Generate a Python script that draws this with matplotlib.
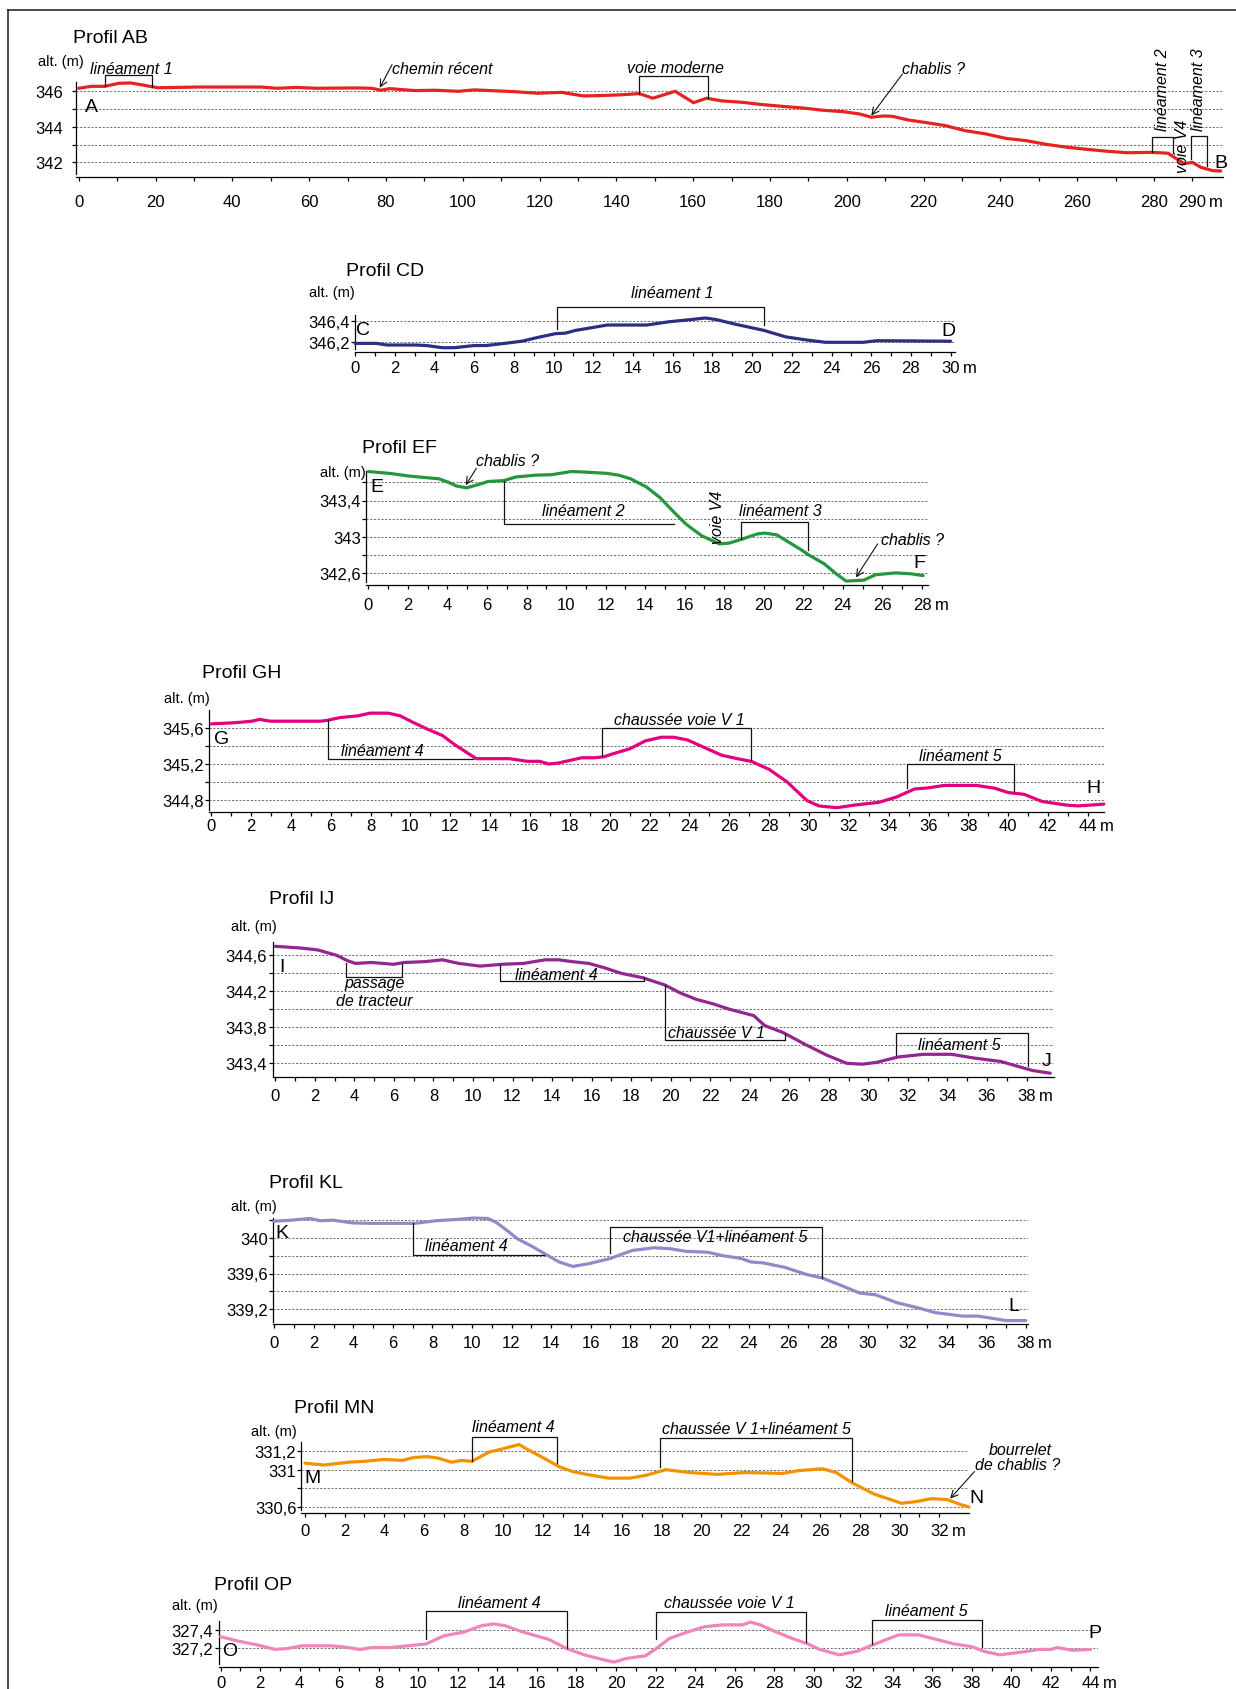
import matplotlib
matplotlib.use('Agg')
import matplotlib.pyplot as plt
from matplotlib.lines import Line2D

plt.rcParams['font.family'] = ['Liberation Sans', 'DejaVu Sans']
NARROW = ['Liberation Sans Narrow', 'Liberation Sans', 'DejaVu Sans']

# --- profils topographiques : distance (m) / altitude (m) ---
ab_dist = [0, 3.2, 6.8, 10.4, 13.5, 16.6, 19, 20.7, 25.8, 31, 41.3, 47.5, 51.6, 56.7, 61.9, 72.2,
           76.3, 78.7, 81, 87.6, 92.8, 98.9, 103, 113.4, 119.6, 125.7, 131.4, 136, 141, 146, 149.5,
           155.3, 156.9, 160.1, 163.5, 167.5, 172.8, 178.1, 183.3, 188.6, 193.9, 199.2, 203.4, 206.4,
           209.7, 211.9, 216.1, 220.3, 225.6, 230.9, 236.2, 241.4, 246.7, 252, 257.3, 262.6, 267.9,
           273.1, 279.5, 283.7, 285.3, 287.9, 290, 292.2, 295.3, 297.4]
ab_alt = [346.17, 346.28, 346.28, 346.45, 346.47, 346.36, 346.26, 346.2, 346.22, 346.24, 346.24,
          346.24, 346.17, 346.22, 346.17, 346.19, 346.17, 346.06, 346.15, 346.04, 346.06, 346.0,
          346.08, 345.98, 345.89, 345.94, 345.74, 345.76, 345.8, 345.87, 345.61, 346.0, 345.79,
          345.36, 345.61, 345.46, 345.38, 345.25, 345.15, 345.06, 344.93, 344.85, 344.72, 344.54,
          344.61, 344.59, 344.38, 344.25, 344.07, 343.78, 343.6, 343.35, 343.22, 343.01, 342.85,
          342.73, 342.62, 342.54, 342.56, 342.51, 342.28, 341.92, 342.0, 341.72, 341.53, 341.51]

cd_dist = [0, 1.05, 1.6, 3.0, 3.6, 4.4, 5.0, 6.0, 6.6, 7.3, 8.4, 9.2, 10.1, 10.6, 11.1, 11.75, 12.7,
           14.7, 15.8, 16.9, 17.65, 18.2, 19.1, 20.6, 21.7, 22.8, 23.7, 25.6, 26.3, 30]
cd_alt = [346.19, 346.19, 346.175, 346.175, 346.17, 346.15, 346.15, 346.17, 346.17, 346.185,
          346.21, 346.245, 346.28, 346.285, 346.31, 346.33, 346.36, 346.36, 346.39, 346.41, 346.425,
          346.41, 346.37, 346.31, 346.25, 346.22, 346.2, 346.2, 346.215, 346.21]

ef_dist = [0, 1.06, 2.06, 3.06, 3.56, 4.06, 4.46, 4.96, 5.46, 6.06, 6.86, 7.46, 8.46, 9.26, 10.26,
           10.86, 12.06, 12.66, 13.26, 14.06, 14.76, 15.46, 16.06, 16.86, 17.76, 18.26, 18.86, 19.66,
           20.06, 20.66, 21.26, 21.86, 22.26, 23.06, 23.66, 24.16, 25.06, 25.66, 26.66, 27.46, 28.06]
ef_alt = [343.72, 343.70, 343.67, 343.65, 343.64, 343.60, 343.56, 343.54, 343.57, 343.61, 343.62,
          343.66, 343.68, 343.685, 343.72, 343.715, 343.70, 343.68, 343.64, 343.55, 343.43, 343.27,
          343.14, 343.01, 342.92, 342.93, 342.97, 343.03, 343.04, 343.02, 342.94, 342.86, 342.80,
          342.70, 342.59, 342.51, 342.52, 342.58, 342.60, 342.59, 342.57]

gh_dist = [0, 0.97, 1.58, 2.04, 2.43, 2.95, 4.0, 5.5, 5.84, 6.45, 7.36, 7.97, 8.88, 9.49, 10.1, 10.86,
           11.6, 12.2, 13.3, 14.96, 15.87, 16.48, 16.94, 17.4, 18.0, 18.6, 19.2, 19.7, 20.1, 21.0,
           21.8, 22.6, 23.2, 23.9, 24.7, 25.6, 26.4, 27.1, 28.0, 28.9, 29.9, 30.5, 31.4, 32.3, 33.5,
           34.4, 35.3, 35.9, 36.8, 38.4, 39.3, 40.0, 40.8, 41.7, 42.9, 43.5, 44.8]
gh_alt = [345.65, 345.66, 345.67, 345.68, 345.70, 345.68, 345.68, 345.68, 345.69, 345.72, 345.74,
          345.77, 345.77, 345.74, 345.67, 345.59, 345.52, 345.42, 345.26, 345.26, 345.23, 345.23,
          345.2, 345.21, 345.24, 345.27, 345.27, 345.28, 345.31, 345.37, 345.46, 345.5, 345.5,
          345.47, 345.39, 345.30, 345.26, 345.23, 345.14, 345.0, 344.79, 344.73, 344.71, 344.74,
          344.77, 344.83, 344.92, 344.93, 344.96, 344.96, 344.93, 344.88, 344.86, 344.78, 344.74,
          344.73, 344.75]

ij_dist = [0, 1.32, 2.14, 3.1, 3.65, 4.06, 4.88, 5.98, 6.52, 7.6, 8.45, 9.27, 10.36, 11.46, 12.56,
           13.65, 14.34, 15.0, 15.85, 16.67, 17.49, 18.6, 19.7, 20.5, 21.3, 22.15, 22.98, 24.2,
           24.75, 25.7, 26.8, 27.9, 28.9, 29.7, 30.4, 31.5, 32.8, 34.2, 35.3, 36.7, 37.5, 38.3, 39.2]
ij_alt = [344.70, 344.68, 344.66, 344.60, 344.54, 344.51, 344.52, 344.50, 344.52, 344.53, 344.55,
          344.51, 344.48, 344.50, 344.51, 344.55, 344.55, 344.53, 344.51, 344.46, 344.40, 344.35,
          344.27, 344.18, 344.11, 344.06, 344.0, 343.93, 343.82, 343.74, 343.61, 343.49, 343.40,
          343.39, 343.41, 343.47, 343.50, 343.50, 343.46, 343.42, 343.37, 343.32, 343.29]

kl_dist = [0, 0.82, 1.78, 2.33, 3.0, 3.97, 4.93, 7.1, 8.2, 9.3, 10.1, 10.8, 11.2, 11.8, 12.3, 13.0,
           13.7, 14.4, 15.1, 15.9, 17.0, 18.1, 19.2, 20.0, 20.8, 21.9, 22.7, 23.6, 24.1, 24.7, 25.8,
           26.9, 27.7, 28.5, 29.6, 30.4, 31.5, 32.6, 33.4, 34.8, 35.6, 37.0, 38.0]
kl_alt = [340.19, 340.20, 340.22, 340.195, 340.2, 340.17, 340.165, 340.165, 340.195, 340.21,
          340.225, 340.22, 340.18, 340.08, 339.99, 339.91, 339.82, 339.73, 339.68, 339.71, 339.77,
          339.86, 339.89, 339.88, 339.85, 339.84, 339.80, 339.77, 339.73, 339.72, 339.67, 339.59,
          339.55, 339.48, 339.38, 339.36, 339.27, 339.21, 339.16, 339.12, 339.12, 339.07, 339.07]

mn_dist = [0, 0.96, 2.19, 3.0, 3.97, 4.92, 5.47, 6.15, 6.7, 7.4, 7.88, 8.42, 9.3, 10.1, 10.8, 11.2,
           12.0, 12.85, 13.5, 14.2, 15.3, 16.4, 17.2, 18.2, 19.4, 20.8, 22.2, 24.1, 24.9, 26.1, 26.8,
           27.6, 28.7, 30.1, 30.9, 31.6, 32.4, 33.1, 33.5]
mn_alt = [331.07, 331.05, 331.08, 331.09, 331.11, 331.10, 331.13, 331.14, 331.125, 331.08, 331.10,
          331.09, 331.19, 331.23, 331.27, 331.22, 331.13, 331.03, 330.98, 330.95, 330.91, 330.91,
          330.94, 331.0, 330.97, 330.95, 330.97, 330.96, 330.99, 331.01, 330.97, 330.86, 330.74,
          330.64, 330.66, 330.69, 330.68, 330.625, 330.60]

op_dist = [0, 0.92, 1.84, 2.76, 3.37, 4.14, 5.52, 6.13, 7.05, 7.66, 8.58, 9.5, 10.4, 11.3, 12.3,
           13.2, 13.8, 14.4, 15.3, 16.6, 17.5, 18.4, 19.3, 19.9, 20.5, 21.5, 22.1, 22.7, 23.6, 24.5,
           25.4, 26.4, 26.8, 27.3, 27.9, 28.8, 29.7, 30.3, 31.3, 32.2, 33.0, 33.7, 34.3, 35.3, 36.2,
           37.1, 38.0, 38.6, 39.4, 40.5, 41.4, 42.0, 42.3, 43.1, 44.0]
op_alt = [327.33, 327.28, 327.24, 327.19, 327.2, 327.23, 327.23, 327.22, 327.19, 327.21, 327.21,
          327.23, 327.25, 327.34, 327.38, 327.45, 327.47, 327.45, 327.38, 327.30, 327.20, 327.13,
          327.08, 327.05, 327.09, 327.12, 327.21, 327.31, 327.38, 327.44, 327.46, 327.46, 327.49,
          327.46, 327.40, 327.32, 327.25, 327.19, 327.13, 327.17, 327.24, 327.30, 327.35, 327.35,
          327.30, 327.25, 327.22, 327.17, 327.13, 327.16, 327.19, 327.19, 327.21, 327.18, 327.19]

# --- mise en page de chaque profil (pixels de la figure) ---
panels = [
    dict(name='AB', dist=ab_dist, alt=ab_alt, color='#e52421',
         x0=78.7, sx=3.84, yax=76.3, xend=298, yref=(346, 92.3), sy=17.75,
         ytop=82.7, ybot=175, xax=177.7, xstep=10, xlabstep=20, xlast=290,
         grid=[342, 343, 344, 345, 346], ylab=[342, 344, 346],
         xpad=9.4, ypad=6.5, title=(73, 38.3), altpos=(37.6, 61.7)),
    dict(name='CD', dist=cd_dist, alt=cd_alt, color='#2d2e83',
         x0=355.1, sx=19.85, yax=355.1, xend=30.2, yref=(346.2, 343.3), sy=108,
         ytop=316, ybot=350, xax=353.3, xstep=1, xlabstep=2, xlast=30,
         grid=[346.2, 346.4], ylab=[346.2, 346.4],
         xpad=2.2, ypad=0.5, title=(345.5, 271.7), altpos=(308.7, 293.3)),
    dict(name='EF', dist=ef_dist, alt=ef_alt, color='#23973b',
         x0=368.4, sx=19.77, yax=366.4, xend=28.3, yref=(343.0, 537.7), sy=90.5,
         ytop=471.7, ybot=583, xax=586, xstep=1, xlabstep=2, xlast=28,
         grid=[342.6, 342.8, 343.0, 343.2, 343.4, 343.6], ylab=[342.6, 343.0, 343.4],
         xpad=5.8, ypad=0.5, title=(361.6, 448.3), altpos=(320, 473.3)),
    dict(name='GH', dist=gh_dist, alt=gh_alt, color='#e5007d',
         x0=211.2, sx=19.925, yax=209.4, xend=44.8, yref=(345.2, 765), sy=89.2,
         ytop=711, ybot=811, xax=813.3, xstep=1, xlabstep=2, xlast=44,
         grid=[344.8, 345.0, 345.2, 345.4, 345.6], ylab=[344.8, 345.2, 345.6],
         xpad=1.0, ypad=1.0, title=(201.5, 673.3), altpos=(164, 699.3)),
    dict(name='IJ', dist=ij_dist, alt=ij_alt, color='#93278f',
         x0=275.3, sx=19.77, yax=272.6, xend=39.4, yref=(344.2, 992.3), sy=90,
         ytop=943.3, ybot=1076.7, xax=1078.3, xstep=1, xlabstep=2, xlast=38,
         grid=[343.4, 343.6, 343.8, 344.0, 344.2, 344.4, 344.6],
         ylab=[343.4, 343.8, 344.2, 344.6],
         xpad=4.3, ypad=1.0, title=(268.8, 899.3), altpos=(230.8, 926.7)),
    dict(name='KL', dist=kl_dist, alt=kl_alt, color='#8e8cc8',
         x0=274.2, sx=19.78, yax=272.6, xend=38.1, yref=(340.0, 1239), sy=88.75,
         ytop=1219.3, ybot=1323.3, xax=1325, xstep=1, xlabstep=2, xlast=38,
         grid=[339.2, 339.4, 339.6, 339.8, 340.0, 340.2], ylab=[339.2, 339.6, 340.0],
         xpad=4.8, ypad=0.3, title=(268.8, 1183.3), altpos=(230.8, 1207.3)),
    dict(name='MN', dist=mn_dist, alt=mn_alt, color='#f39200',
         x0=305, sx=19.82, yax=301.2, xend=33.5, yref=(331.0, 1470.7), sy=93.3,
         ytop=1443.3, ybot=1511, xax=1514.3, xstep=1, xlabstep=2, xlast=32,
         grid=[330.6, 330.8, 331.0, 331.2], ylab=[330.6, 331.0, 331.2],
         xpad=3.6, ypad=0.3, title=(294.2, 1409), altpos=(250.8, 1431.7)),
    dict(name='OP', dist=op_dist, alt=op_alt, color='#ee86b8',
         x0=220.6, sx=19.77, yax=218.5, xend=44.4, yref=(327.2, 1649.5), sy=91,
         ytop=1622, ybot=1665, xax=1667.5, xstep=1, xlabstep=2, xlast=44,
         grid=[327.2, 327.4], ylab=[327.2, 327.4],
         xpad=2.9, ypad=1.0, title=(214.5, 1586), altpos=(172, 1606)),
]

# --- annotations (coordonnées des profils) ---
notes = {
    'AB': dict(
        brackets=[[(6.8, 346.28), (6.8, 346.92), (19.0, 346.92), (19.0, 346.26)],
                  [(146.0, 345.87), (146.0, 346.88), (163.8, 346.88), (163.8, 345.62)],
                  [(279.5, 342.56), (279.5, 343.41), (285.0, 343.41), (285.0, 342.5)],
                  [(289.6, 342.19), (289.6, 343.46), (293.9, 343.46), (293.9, 341.8)]],
        labels=[(13.75, 347.3, 'linéament 1', 0, 'center'),
                (81.5, 347.3, 'chemin récent', 0, 'left'),
                (155.5, 347.35, 'voie moderne', 0, 'center'),
                (214.5, 347.26, 'chablis ?', 0, 'left'),
                (282.3, 346.12, 'linéament 2', 90, 'center'),
                (287.4, 342.94, 'voie V4', 90, 'center'),
                (291.6, 346.13, 'linéament 3', 90, 'center')],
        arrows=[((81.6, 347.5), (78.4, 346.2)), ((214.5, 346.97), (206.4, 344.63))],
        ends=[(3.2, 345.13, 'A'), (297.4, 342.0, 'B')]),
    'CD': dict(
        brackets=[[(10.16, 346.32), (10.16, 346.53), (20.6, 346.53), (20.6, 346.36)]],
        labels=[(16, 346.66, 'linéament 1', 0, 'center')],
        arrows=[],
        ends=[(0.39, 346.32, 'C'), (29.87, 346.31, 'D')]),
    'EF': dict(
        brackets=[[(6.86, 343.62), (6.86, 343.14), (15.46, 343.14)],
                  [(18.86, 342.97), (18.86, 343.16), (22.26, 343.16), (22.26, 342.85)]],
        labels=[(7.06, 343.84, 'chablis ?', 0, 'center'),
                (10.86, 343.29, 'linéament 2', 0, 'center'),
                (17.66, 343.23, 'voie V4', 90, 'center'),
                (20.86, 343.29, 'linéament 3', 0, 'center'),
                (27.5, 342.97, 'chablis ?', 0, 'center')],
        arrows=[((5.46, 343.755), (4.92, 343.57)), ((25.76, 342.92), (24.66, 342.55))],
        ends=[(0.42, 343.56, 'E'), (27.86, 342.71, 'F')]),
    'GH': dict(
        brackets=[[(5.84, 345.69), (5.84, 345.26), (13.14, 345.26)],
                  [(19.6, 345.29), (19.6, 345.6), (27.1, 345.6), (27.1, 345.24)],
                  [(34.9, 344.93), (34.9, 345.2), (40.3, 345.2), (40.3, 344.9)]],
        labels=[(8.57, 345.35, 'linéament 4', 0, 'center'),
                (23.5, 345.70, 'chaussée voie V 1', 0, 'center'),
                (37.6, 345.29, 'linéament 5', 0, 'center')],
        arrows=[],
        ends=[(0.5, 345.49, 'G'), (44.3, 344.94, 'H')]),
    'IJ': dict(
        brackets=[[(3.56, 344.51), (3.56, 344.36), (6.4, 344.36), (6.4, 344.5)],
                  [(11.35, 344.49), (11.35, 344.32), (18.67, 344.32), (18.67, 344.36)],
                  [(19.7, 344.27), (19.7, 343.66), (25.8, 343.66), (25.8, 343.72)],
                  [(31.4, 343.49), (31.4, 343.74), (38.05, 343.74), (38.05, 343.37)]],
        labels=[(5.0, 344.3, 'passage', 0, 'center'),
                (5.0, 344.1, 'de tracteur', 0, 'center'),
                (14.2, 344.385, 'linéament 4', 0, 'center'),
                (22.3, 343.74, 'chaussée V 1', 0, 'center'),
                (34.6, 343.61, 'linéament 5', 0, 'center')],
        arrows=[],
        ends=[(0.36, 344.48, 'I'), (39.0, 343.43, 'J')]),
    'KL': dict(
        brackets=[[(7.0, 340.165), (7.0, 339.81), (13.65, 339.81)],
                  [(17.0, 339.83), (17.0, 340.12), (27.7, 340.12), (27.7, 339.55)]],
        labels=[(9.7, 339.91, 'linéament 4', 0, 'center'),
                (22.3, 340.02, 'chaussée V1+linéament 5', 0, 'center')],
        arrows=[],
        ends=[(0.4, 340.06, 'K'), (37.4, 339.24, 'L')]),
    'MN': dict(
        brackets=[[(8.42, 331.09), (8.42, 331.35), (12.7, 331.35), (12.7, 331.07)],
                  [(17.9, 331.03), (17.9, 331.34), (27.6, 331.34), (27.6, 330.88)]],
        labels=[(10.5, 331.46, 'linéament 4', 0, 'center'),
                (22.8, 331.44, 'chaussée V 1+linéament 5', 0, 'center'),
                (36.1, 331.22, 'bourrelet', 0, 'center'),
                (35.97, 331.06, 'de chablis ?', 0, 'center')],
        arrows=[((33.78, 330.98), (32.55, 330.69))],
        ends=[(0.4, 330.92, 'M'), (33.9, 330.70, 'N')]),
    'OP': dict(
        brackets=[[(10.4, 327.30), (10.4, 327.61), (17.5, 327.61), (17.5, 327.2)],
                  [(22.0, 327.30), (22.0, 327.60), (29.6, 327.60), (29.6, 327.27)],
                  [(32.95, 327.25), (32.95, 327.51), (38.5, 327.51), (38.5, 327.22)]],
        labels=[(14.1, 327.71, 'linéament 4', 0, 'center'),
                (25.75, 327.7, 'chaussée voie V 1', 0, 'center'),
                (35.7, 327.62, 'linéament 5', 0, 'center')],
        arrows=[],
        ends=[(0.46, 327.18, 'O'), (44.2, 327.38, 'P')]),
}

W, H = 1236, 1690
PT = 0.72  # points par pixel à 100 dpi
TICK_FS = 12
TICK_LEN = 3.2

fig = plt.figure(figsize=(W / 100, H / 100), dpi=100)
fig.patch.set_facecolor('white')

# cadre
fig.add_artist(Line2D([8 / W, 8 / W], [0, 1 - 11 / H], color='#1a1a1a', lw=1.1,
                      transform=fig.transFigure))
fig.add_artist(Line2D([8 / W, 1], [1 - 11 / H, 1 - 11 / H], color='#1a1a1a', lw=1.1,
                      transform=fig.transFigure))


def fmt(v):
    return ('%g' % v).replace('.', ',')


for p in panels:
    right = p['x0'] + p['xend'] * p['sx']
    ax = fig.add_axes([p['yax'] / W, 1 - p['ybot'] / H,
                       (right - p['yax']) / W, (p['ybot'] - p['ytop']) / H])
    yv, ypx = p['yref']
    ax.set_xlim((p['yax'] - p['x0']) / p['sx'], p['xend'])
    ax.set_ylim(yv - (p['ybot'] - ypx) / p['sy'], yv + (ypx - p['ytop']) / p['sy'])
    ax.patch.set_visible(False)
    ax.spines['top'].set_visible(False)
    ax.spines['right'].set_visible(False)
    ax.spines['bottom'].set_position(('outward', (p['xax'] - p['ybot']) * PT))
    for s in ('left', 'bottom'):
        ax.spines[s].set_linewidth(0.9)

    # lignes de niveau pointillées
    for g in p['grid']:
        ax.axhline(g, color='#555555', lw=0.6, ls=(0, (2.5, 2)), zorder=0)

    ax.plot(p['dist'], p['alt'], color=p['color'], lw=2.3, solid_capstyle='round',
            solid_joinstyle='round', clip_on=False, zorder=3)

    xt = list(range(0, p['xlast'] + 1, p['xstep']))
    ax.set_xticks(xt)
    ax.set_xticklabels([str(v) if (v % p['xlabstep'] == 0 or v == p['xlast']) else ''
                        for v in xt])
    ax.set_yticks(p['grid'])
    ax.set_yticklabels([fmt(v) if v in p['ylab'] else '' for v in p['grid']])
    ax.tick_params(direction='out', length=TICK_LEN, width=0.9, labelsize=TICK_FS)
    ax.tick_params(axis='x', pad=p['xpad'])
    ax.tick_params(axis='y', pad=p['ypad'])
    for lab in ax.get_xticklabels() + ax.get_yticklabels():
        lab.set_family(NARROW)

    # unité après la dernière graduation
    s = str(p['xlast'])
    dx = 0.5 * len(s) * 0.5 * TICK_FS + 3.0
    dy = -((p['xax'] - p['ybot']) * PT + TICK_LEN + p['xpad'])
    ax.annotate('m', xy=(p['xlast'], 0), xycoords=('data', 'axes fraction'),
                xytext=(dx, dy), textcoords='offset points', ha='left', va='top',
                fontsize=TICK_FS, family=NARROW, annotation_clip=False)

    tx, ty = p['title']
    fig.text(tx / W, 1 - ty / H, 'Profil ' + p['name'], ha='left', va='center', fontsize=14)
    axx, axy = p['altpos']
    fig.text(axx / W, 1 - axy / H, 'alt. (m)', ha='left', va='center', fontsize=10.5,
             family=NARROW)

    n = notes[p['name']]
    for br in n['brackets']:
        ax.plot([q[0] for q in br], [q[1] for q in br], color='#111111', lw=0.9,
                clip_on=False, zorder=4)
    for x, y, txt, rot, ha in n['labels']:
        ax.text(x, y, txt, ha=ha, va='center', rotation=rot, style='italic',
                fontsize=11.5, clip_on=False, zorder=5)
    for start, tip in n['arrows']:
        ax.annotate('', xy=tip, xytext=start,
                    arrowprops=dict(arrowstyle='->,head_length=0.5,head_width=0.25',
                                    lw=0.8, color='#111111', shrinkA=0, shrinkB=0),
                    annotation_clip=False)
    for x, y, c in n['ends']:
        ax.text(x, y, c, ha='center', va='center', fontsize=14, clip_on=False, zorder=5)

fig.savefig('out.png', dpi=100, facecolor='white')
